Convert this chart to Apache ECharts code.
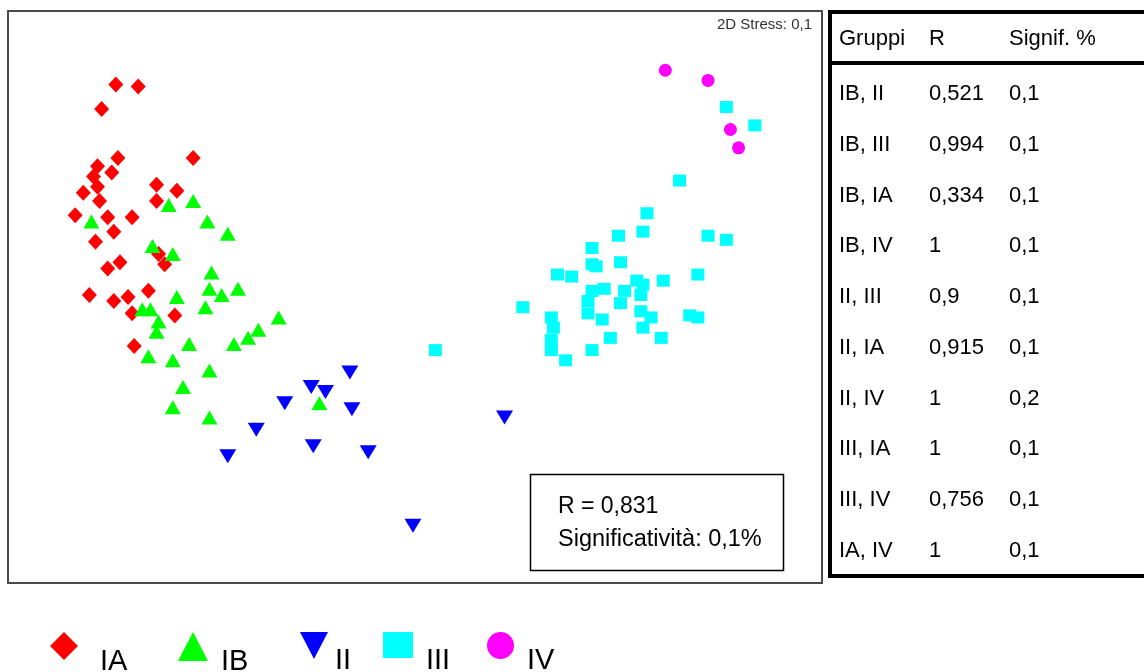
<!DOCTYPE html>
<html>
<head>
<meta charset="utf-8">
<script src="https://cdn.jsdelivr.net/npm/echarts@6/dist/echarts.min.js"></script>
<style>
  html, body { margin: 0; padding: 0; background: #ffffff; }
  #chart { width: 1144px; height: 672px; }
</style>
</head>
<body>
<div id="chart"></div>
<script>
// nMDS ordination: group coordinates (dimension 1, dimension 2)
const groupNames = ['IA', 'IB', 'II', 'III', 'IV'];

const pointsIA = [
  [-1.47, 1.04], [-1.36, 1.03], [-1.54, 0.92], [-1.46, 0.68], [-1.09, 0.68],
  [-1.56, 0.64], [-1.49, 0.61], [-1.58, 0.59], [-1.56, 0.54], [-1.27, 0.55],
  [-1.17, 0.52], [-1.63, 0.51], [-1.55, 0.47], [-1.27, 0.47], [-1.67, 0.40],
  [-1.51, 0.39], [-1.39, 0.39], [-1.48, 0.32], [-1.57, 0.27], [-1.26, 0.21],
  [-1.23, 0.16], [-1.45, 0.17], [-1.51, 0.14], [-1.60, 0.01], [-1.48, -0.02],
  [-1.41, 0.00], [-1.31, 0.03], [-1.39, -0.08], [-1.18, -0.09], [-1.38, -0.24]
];

const pointsIB = [
  [-1.21, 0.45], [-1.09, 0.47], [-1.59, 0.37], [-1.02, 0.37], [-0.92, 0.31],
  [-1.29, 0.25], [-1.19, 0.21], [-1.00, 0.12], [-1.01, 0.04], [-0.95, 0.01],
  [-0.87, 0.04], [-1.17, 0.00], [-1.03, -0.05], [-1.34, -0.06], [-1.30, -0.06],
  [-1.26, -0.12], [-1.27, -0.17], [-0.67, -0.10], [-0.77, -0.16], [-0.82, -0.20],
  [-0.89, -0.23], [-1.11, -0.23], [-1.31, -0.29], [-1.19, -0.31], [-1.01, -0.36],
  [-1.14, -0.44], [-1.19, -0.54], [-1.01, -0.59], [-0.47, -0.52]
];

const pointsII = [
  [-0.92, -0.78], [-0.78, -0.65], [-0.64, -0.52], [-0.51, -0.44], [-0.44, -0.465],
  [-0.32, -0.37], [-0.31, -0.55], [-0.50, -0.73], [-0.23, -0.76], [-0.01, -1.12],
  [0.44, -0.59]
];

const pointsIII = [
  [1.30, 0.57], [1.14, 0.41], [1.12, 0.32], [1.00, 0.30], [1.44, 0.30],
  [1.53, 0.28], [0.87, 0.24], [0.87, 0.16], [0.89, 0.15], [1.01, 0.17],
  [0.70, 0.11], [0.77, 0.10], [1.39, 0.11], [1.09, 0.08], [1.12, 0.06],
  [1.22, 0.08], [0.87, 0.03], [0.93, 0.04], [1.03, 0.03], [1.11, 0.01],
  [0.85, -0.02], [1.01, -0.03], [0.85, -0.08], [1.11, -0.07], [1.16, -0.10],
  [0.92, -0.11], [1.35, -0.09], [1.39, -0.10], [0.53, -0.05], [0.67, -0.10],
  [0.68, -0.15], [1.12, -0.15], [0.67, -0.21], [0.96, -0.20], [1.21, -0.20],
  [0.67, -0.26], [0.87, -0.26], [0.74, -0.31], [0.10, -0.26], [1.53, 0.93],
  [1.67, 0.84]
];

const pointsIV = [
  [1.23, 1.11], [1.44, 1.06], [1.55, 0.82], [1.59, 0.73]
];

// ANOSIM pairwise tests
const tableHeader = ['Gruppi', 'R', 'Signif. %'];
const tablePairs = ['IB, II', 'IB, III', 'IB, IA', 'IB, IV', 'II, III', 'II, IA', 'II, IV', 'III, IA', 'III, IV', 'IA, IV'];
const tableR = ['0,521', '0,994', '0,334', '1', '0,9', '0,915', '1', '1', '0,756', '1'];
const tableSignif = ['0,1', '0,1', '0,1', '0,1', '0,1', '0,1', '0,2', '0,1', '0,1', '0,1'];

// global test and ordination stress
const globalR = '0,831';
const globalSignif = '0,1%';
const stress2D = '0,1';

const FONT = '"Liberation Sans", Arial, sans-serif';

const groupData = [pointsIA, pointsIB, pointsII, pointsIII, pointsIV];
const groupStyle = [
  { color: '#ff0000', symbol: 'diamond',  size: [15, 16], rotate: 0,   z: 3 },
  { color: '#00ff00', symbol: 'triangle', size: [16, 14], rotate: 0,   z: 4 },
  { color: '#0000ff', symbol: 'triangle', size: [17, 14], rotate: 180, z: 2 },
  { color: '#00ffff', symbol: 'rect',     size: [13, 12], rotate: 0,   z: 5 },
  { color: '#ff00ff', symbol: 'circle',   size: 13,       rotate: 0,   z: 6 }
];

// legend layout along the bottom; II gets an explicit downward triangle
const legendLayout = [
  { left: 50,  icon: [28, 28], pad: 17, shape: null },
  { left: 178, icon: [30, 29], pad: 8,  shape: null },
  { left: 300, icon: [28, 27], pad: 2,  shape: 'path://M0,0L28,0L14,27Z' },
  { left: 383, icon: [30, 26], pad: 8,  shape: null },
  { left: 487, icon: [27, 27], pad: 8,  shape: null }
];

const series = groupNames.map((name, i) => ({
  name: name,
  type: 'scatter',
  data: groupData[i],
  symbol: groupStyle[i].symbol,
  symbolSize: groupStyle[i].size,
  symbolRotate: groupStyle[i].rotate,
  z: groupStyle[i].z,
  itemStyle: { color: groupStyle[i].color, opacity: 1 },
  emphasis: { disabled: true },
  silent: true
}));

const legends = groupNames.map((name, i) => {
  const item = { name: name };
  if (legendLayout[i].shape) item.icon = legendLayout[i].shape;
  return {
    data: [item],
    left: legendLayout[i].left,
    top: 632,
    padding: 0,
    itemGap: 0,
    itemWidth: legendLayout[i].icon[0],
    itemHeight: legendLayout[i].icon[1],
    selectedMode: false,
    formatter: '{t|{name}}',
    textStyle: {
      fontSize: 29,
      color: '#000',
      fontFamily: FONT,
      rich: {
        t: {
          fontSize: 29,
          color: '#000',
          fontFamily: FONT,
          padding: [31, 0, 0, legendLayout[i].pad]
        }
      }
    }
  };
});

// table of pairwise results, drawn to the right of the plot
const tableGraphics = [];
const colX = [839, 929, 1009];
const textStyleTable = t => ({ text: t, font: '22px ' + FONT, fill: '#000', verticalAlign: 'middle', textVerticalAlign: 'middle' });
tableHeader.forEach((t, c) => {
  tableGraphics.push({ type: 'text', x: colX[c], y: 39, silent: true, style: textStyleTable(t) });
});
tablePairs.forEach((p, r) => {
  const y = 94 + r * 50.75;
  [p, tableR[r], tableSignif[r]].forEach((t, c) => {
    tableGraphics.push({ type: 'text', x: colX[c], y: y, silent: true, style: textStyleTable(t) });
  });
});
tableGraphics.push(
  { type: 'rect', silent: true, shape: { x: 830, y: 12, width: 400, height: 564 },
    style: { fill: 'none', stroke: '#000', lineWidth: 4 } },
  { type: 'rect', silent: true, shape: { x: 830, y: 61, width: 320, height: 4 },
    style: { fill: '#000' } }
);

const option = {
  animation: false,
  backgroundColor: '#ffffff',
  grid: {
    left: 8, top: 11, width: 814, height: 572,
    show: true, borderColor: '#4a4a4a', borderWidth: 2, backgroundColor: '#ffffff'
  },
  xAxis: { type: 'value', min: -2, max: 2, show: false },
  yAxis: { type: 'value', min: -1.4, max: 1.4, show: false },
  legend: legends,
  series: series,
  graphic: [
    {
      type: 'text', silent: true, x: 812, y: 25,
      style: { text: '2D Stress: ' + stress2D, font: '15px ' + FONT, fill: '#333',
               align: 'right', verticalAlign: 'middle', textAlign: 'right', textVerticalAlign: 'middle' }
    },
    {
      type: 'rect', silent: true, z: 10,
      shape: { x: 530.5, y: 474.5, width: 253, height: 96 },
      style: { fill: '#fff', stroke: '#000', lineWidth: 1.5 }
    },
    {
      type: 'text', silent: true, z: 11, x: 558, y: 507,
      style: { text: 'R = ' + globalR, font: '23px ' + FONT, fill: '#000', verticalAlign: 'middle', textVerticalAlign: 'middle' }
    },
    {
      type: 'text', silent: true, z: 11, x: 558, y: 540,
      style: { text: 'Significatività: ' + globalSignif, font: '23.5px ' + FONT, fill: '#000', verticalAlign: 'middle', textVerticalAlign: 'middle' }
    }
  ].concat(tableGraphics)
};

const chart = echarts.init(document.getElementById('chart'), null, { renderer: 'canvas' });
chart.setOption(option);
</script>
</body>
</html>
